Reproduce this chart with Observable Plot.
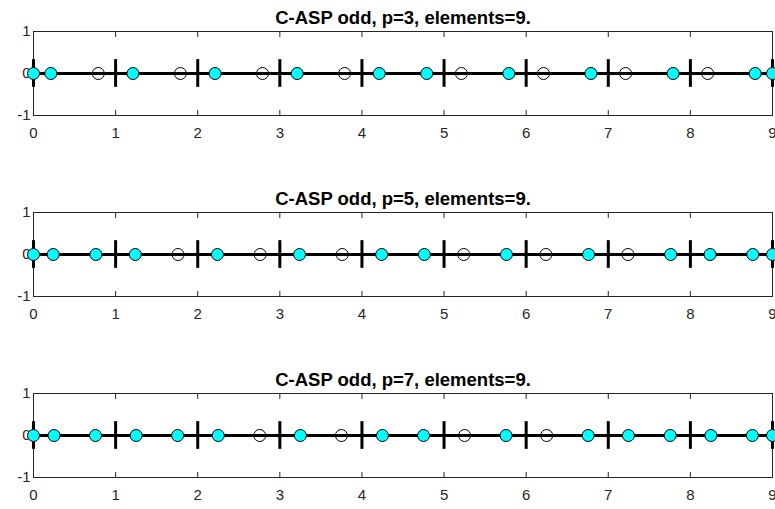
<!DOCTYPE html>
<html>
<head>
<meta charset="utf-8">
<script src="https://cdn.jsdelivr.net/npm/d3@7"></script>
<script src="https://cdn.jsdelivr.net/npm/@observablehq/plot@0.6"></script>
<style>
  html, body { margin: 0; padding: 0; background: #fff; overflow: hidden; }
  #chart svg { display: block; }
</style>
</head>
<body>
<div id="chart"></div>
<script>
const titles = ["C-ASP odd, p=3, elements=9.", "C-ASP odd, p=5, elements=9.", "C-ASP odd, p=7, elements=9."];
const xTicks = [0, 1, 2, 3, 4, 5, 6, 7, 8, 9];
const yTicks = [-1, 0, 1];
const boundaries = [0, 1, 2, 3, 4, 5, 6, 7, 8, 9];

const nodesP3 = [0, 0.211, 0.789, 1.211, 1.789, 2.211, 2.789, 3.211, 3.789, 4.211, 4.789, 5.211, 5.789, 6.211, 6.789, 7.211, 7.789, 8.211, 8.789, 9];
const activeP3 = [1, 1, 0, 1, 0, 1, 0, 1, 0, 1, 1, 0, 1, 0, 1, 0, 1, 0, 1, 1];

const nodesP5 = [0, 0.24, 0.76, 1.24, 1.76, 2.24, 2.76, 3.24, 3.76, 4.24, 4.76, 5.24, 5.76, 6.24, 6.76, 7.24, 7.76, 8.24, 8.76, 9];
const activeP5 = [1, 1, 1, 1, 0, 1, 0, 1, 0, 1, 1, 0, 1, 0, 1, 0, 1, 1, 1, 1];

const nodesP7 = [0, 0.25, 0.755, 1.25, 1.755, 2.25, 2.755, 3.25, 3.75, 4.25, 4.75, 5.25, 5.755, 6.25, 6.755, 7.245, 7.755, 8.25, 8.755, 9];
const activeP7 = [1, 1, 1, 1, 1, 1, 0, 1, 0, 1, 1, 0, 1, 0, 1, 1, 1, 1, 1, 1];

const panels = [
  {title: titles[0], nodes: nodesP3, active: activeP3},
  {title: titles[1], nodes: nodesP5, active: activeP5},
  {title: titles[2], nodes: nodesP7, active: activeP7}
];

const heights = [181, 181, 147];
const container = document.getElementById("chart");

panels.forEach((p, i) => {
  const pts = p.nodes.map((x, j) => ({x, y: 0, on: p.active[j] === 1}));
  const chart = Plot.plot({
    width: 775,
    height: heights[i],
    marginTop: 31,
    marginBottom: heights[i] - 31 - 84,
    marginLeft: 33,
    marginRight: 3,
    style: {fontFamily: "Arial, 'Liberation Sans', Helvetica, sans-serif", fontSize: "15px", color: "#262626", background: "#fff", overflow: "visible"},
    x: {domain: [0, 9], ticks: xTicks, label: null},
    y: {domain: [-1, 1], ticks: yTicks, label: null},
    marks: [
      Plot.frame({stroke: "#262626", strokeWidth: 1}),
      Plot.axisX(xTicks, {anchor: "bottom", tickSize: -5, tickFormat: () => "", label: null, stroke: "#262626"}),
      Plot.axisX(xTicks, {anchor: "top", tickSize: -5, tickFormat: () => "", label: null, stroke: "#262626"}),
      Plot.axisX(xTicks, {anchor: "bottom", tickSize: 0, tickPadding: 12, tickFormat: d => String(d), label: null, fill: "#262626", fontSize: 15}),
      Plot.axisY(yTicks, {anchor: "left", tickSize: 0, tickPadding: 3, tickFormat: d => String(d), label: null, fill: "#262626", fontSize: 15}),
      Plot.ruleY([0], {stroke: "black", strokeWidth: 3}),
      Plot.ruleX(boundaries, {x: d => d, y1: -0.33, y2: 0.33, stroke: "black", strokeWidth: 3}),
      Plot.dot(pts.filter(d => !d.on), {x: "x", y: "y", r: 6, stroke: "black", strokeWidth: 1, fill: "none"}),
      Plot.dot(pts.filter(d => d.on), {x: "x", y: "y", r: 6, stroke: "black", strokeWidth: 1, fill: "#00ffff"}),
      Plot.text([p.title], {frameAnchor: "top", dy: -13, text: d => d, fontWeight: "bold", fontSize: 18.5, fill: "black", lineAnchor: "middle"})
    ]
  });
  container.appendChild(chart);
});
</script>
</body>
</html>
